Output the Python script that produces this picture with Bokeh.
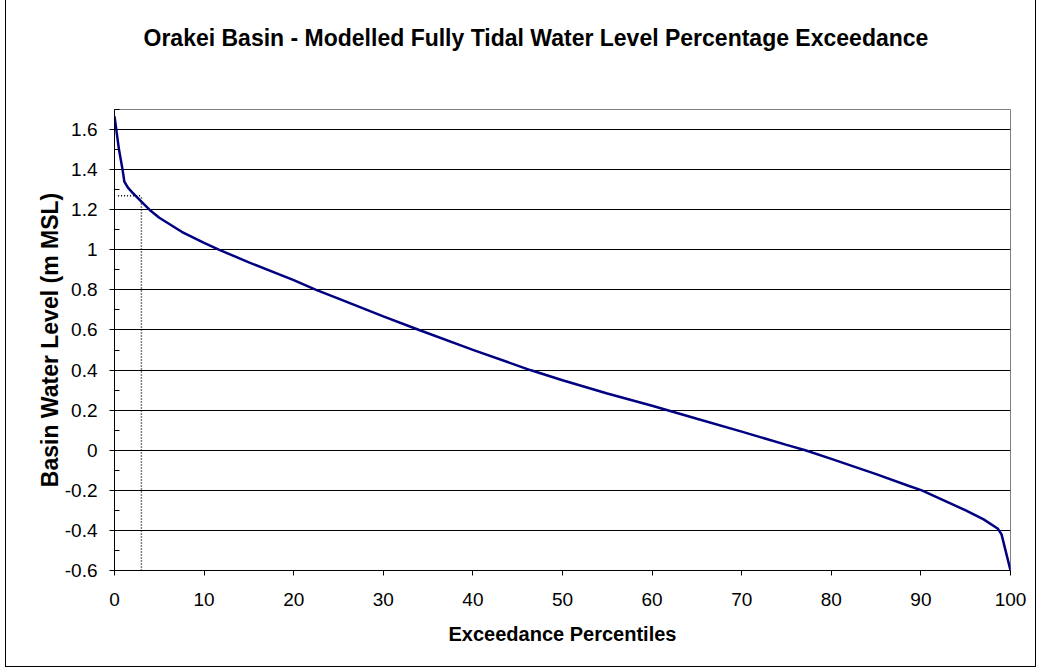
from bokeh.plotting import figure
from bokeh.models import Range1d, FixedTicker, CustomJSTickFormatter, InlineStyleSheet, Title
from bokeh.embed import file_html
from bokeh.resources import INLINE

# Data
exceedance_pct = [0, 0.2, 0.5, 0.9, 1.1, 1.5, 2, 3, 3.9, 5, 7.5, 10, 11.7, 15, 20,
                  22.5, 25, 30, 34, 40, 46.4, 50, 55, 60, 65, 70, 75, 77.1, 80,
                  85, 88.6, 90.1, 95, 97, 98.6, 99, 100]
water_level = [1.665, 1.6, 1.5, 1.4, 1.34, 1.31, 1.285, 1.24, 1.2, 1.16, 1.09,
               1.035, 1.0, 0.937, 0.849, 0.8, 0.756, 0.668, 0.6, 0.501, 0.4, 0.349,
               0.283, 0.222, 0.157, 0.093, 0.027, 0.0, -0.043, -0.119, -0.177,
               -0.2, -0.30, -0.345, -0.392, -0.42, -0.6]

# dotted reference marker
marker_h_x = [0.4, 3.0]
marker_h_y = [1.27, 1.27]
marker_v_x = [3.0, 3.0]
marker_v_y = [-0.6, 1.27]

x_ticks = [0, 10, 20, 30, 40, 50, 60, 70, 80, 90, 100]
y_ticks = [-0.6, -0.4, -0.2, 0, 0.2, 0.4, 0.6, 0.8, 1, 1.2, 1.4, 1.6]
y_minor_ticks = [-0.5, -0.3, -0.1, 0.1, 0.3, 0.5, 0.7, 0.9, 1.1, 1.3, 1.5, 1.7]

TITLE = "Orakei Basin - Modelled Fully Tidal Water Level Percentage Exceedance"
FONT = "Liberation Sans"

p = figure(width=1029, height=666, output_backend="svg", toolbar_location=None,
           x_range=Range1d(0, 100), y_range=Range1d(-0.6, 1.7),
           min_border_left=108, min_border_right=25, min_border_top=109,
           min_border_bottom=96)
p.stylesheets.append(InlineStyleSheet(css=":host { outline: 1px solid black; margin-left: 6px; }"))

p.background_fill_color = "white"
p.border_fill_color = "white"
p.outline_line_color = "#808080"
p.outline_line_width = 1

# spacer between frame and title, then the title itself
spacer = Title(text=" ", text_font_size="1px", standoff=56)
p.add_layout(spacer, "above")
main_title = Title(text=TITLE, text_font=FONT, text_font_size="23px",
                   text_font_style="bold", text_color="black",
                   align="left", offset=29, standoff=0)
p.add_layout(main_title, "above")

# axes
p.xaxis.ticker = FixedTicker(ticks=x_ticks)
p.yaxis.ticker = FixedTicker(ticks=y_ticks, minor_ticks=y_minor_ticks)
p.yaxis.formatter = CustomJSTickFormatter(code="return tick.toFixed(1).replace(/\\.0$/, '');")

for ax in (p.xaxis[0], p.yaxis[0]):
    ax.axis_line_color = "black"
    ax.major_tick_line_color = "black"
    ax.major_tick_in = 0
    ax.major_tick_out = 5
    ax.major_label_text_font = FONT
    ax.major_label_text_font_size = "19px"
    ax.major_label_text_color = "black"
    ax.axis_label_text_font = FONT
    ax.axis_label_text_font_style = "bold"
    ax.axis_label_text_color = "black"

p.xaxis.minor_tick_line_color = None
p.yaxis.minor_tick_line_color = "black"
p.yaxis.minor_tick_in = 5
p.yaxis.minor_tick_out = 0

p.xaxis.axis_label = "Exceedance Percentiles"
p.xaxis.axis_label_text_font_size = "20px"
p.xaxis.major_label_standoff = 17
p.xaxis.axis_label_standoff = 14

p.yaxis.axis_label = "Basin Water Level (m MSL)"
p.yaxis.axis_label_text_font_size = "23px"
p.yaxis.major_label_standoff = 12
p.yaxis.axis_label_standoff = -1

p.xgrid.grid_line_color = None
p.ygrid.grid_line_color = "black"
p.ygrid.grid_line_width = 1

p.line(marker_h_x, marker_h_y, line_color="black", line_width=1.5, line_dash="1 2")
p.line(marker_v_x, marker_v_y, line_color="black", line_width=1.5, line_dash="1 2")
p.line(exceedance_pct, water_level, line_color="#000080", line_width=2.5)

open("out.html", "w").write(file_html(p, INLINE))
